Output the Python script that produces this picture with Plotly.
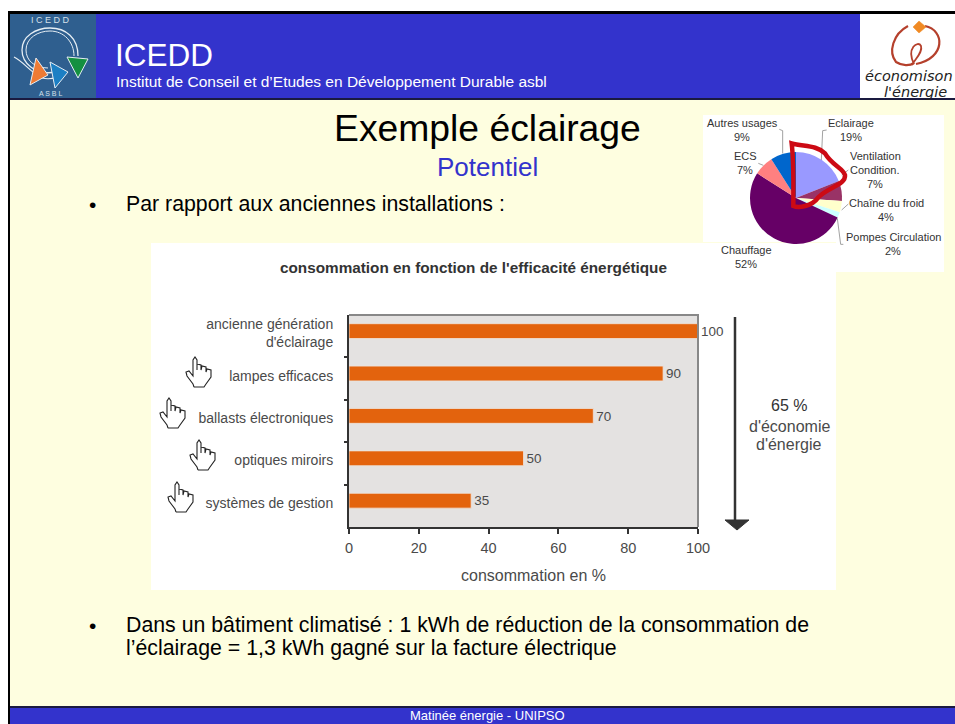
import plotly.graph_objects as go

W, H = 955, 724

# ---------- data ----------
categories = ["ancienne génération<br>d'éclairage", "lampes efficaces", "ballasts électroniques",
              "optiques miroirs", "systèmes de gestion"]
consumption = [100, 90, 70, 50, 35]
x_ticks = [0, 20, 40, 60, 80, 100]

pie_labels = ["Eclairage", "Ventilation Condition.", "Chaîne du froid", "Pompes Circulation",
              "Chauffage", "ECS", "Autres usages"]
pie_values = [19, 7, 4, 2, 52, 7, 9]
pie_colors = ["#9999FF", "#993366", "#FFFFCC", "#CCFFFF", "#660066", "#FF8080", "#0066CC"]

BLUE = "#3333CC"
YEL = "#FEFEE0"
ORANGE = "#E3630D"
TXT = "#4A4A4A"
FONT = "Liberation Sans"


def px(x):
    return x / W


def py(y):
    return 1 - y / H


shapes = []
annots = []


def rect(x0, y0, x1, y1, fill, layer="below", line=None, lw=0):
    shapes.append(dict(type="rect", xref="paper", yref="paper", x0=px(x0), x1=px(x1), y0=py(y0), y1=py(y1),
                       fillcolor=fill, line=dict(width=lw, color=line or fill), layer=layer))


def path_of(cmds):
    out = []
    for c in cmds:
        if isinstance(c, str):
            out.append(c)
        else:
            out.append(f"{px(c[0]):.5f},{py(c[1]):.5f}")
    return " ".join(out)


def poly(points, color, lw=1, fill=None, close=False, layer="above"):
    cmds = ["M", points[0]]
    for p in points[1:]:
        cmds += ["L", p]
    if close:
        cmds.append("Z")
    shapes.append(dict(type="path", xref="paper", yref="paper", path=path_of(cmds),
                       line=dict(color=color, width=lw), fillcolor=fill or "rgba(0,0,0,0)", layer=layer))


def curve(cmds, color, lw=1.5, layer="above"):
    shapes.append(dict(type="path", xref="paper", yref="paper", path=path_of(cmds),
                       line=dict(color=color, width=lw), fillcolor="rgba(0,0,0,0)", layer=layer))


def text(x, y, s, size, color="#000000", anchor="center", font=FONT, **kw):
    annots.append(dict(xref="paper", yref="paper", x=px(x), y=py(y), text=s, showarrow=False,
                       xanchor=anchor, yanchor="middle", align=anchor,
                       font=dict(size=size, color=color, family=font), borderpad=0, **kw))


# ---------- slide frame ----------
rect(0, 0, 8, H, "#FFFFFF")
rect(0, 0, W, 11, "#FFFFFF")
rect(8, 11, W, 14, "#000000")
rect(8, 11, 10, H, "#000000")
rect(10, 14, 860, 98, BLUE)
rect(10, 98, W, 100, "#1A1A40")
rect(10, 707, W, H, BLUE)
rect(10, 706, W, 708, "#1A1A40")
# white panels behind the two charts
rect(703, 115, 944, 242, "#FFFFFF")
rect(836, 242, 944, 272, "#FFFFFF")
rect(151, 243, 836, 590, "#FFFFFF")
# plot area background
rect(349, 315, 698, 527, "#E4E2E1")

# ---------- ICEDD logo ----------
rect(10, 14, 96, 98, "#2F5F8F")
text(50, 20, "I C E D D", 9, "#D5E0EA")
text(50, 94, "A S B L", 7, "#D5E0EA")
curve(["M", (56, 72), "C", (34, 76), (22, 62), (22, 50), "C", (22, 36), (36, 28), (50, 28),
       "C", (66, 28), (78, 38), (78, 56)], "#E6EEF4", 1.3)
curve(["M", (48, 68), "C", (34, 68), (26, 60), (26, 50), "C", (26, 38), (38, 31), (50, 31),
       "C", (64, 31), (74, 42), (74, 56)], "#E6EEF4", 1.0)
curve(["M", (14, 57), "C", (24, 62), (30, 72), (42, 78), "C", (50, 80), (58, 78), (66, 72)], "#E6EEF4", 1.2)
poly([(36, 58), (30, 85), (48, 75)], "#E6EEF4", 1, "#EE7B35", True)
poly([(50, 62), (55, 88), (68, 72)], "#E6EEF4", 1, "#1B7FC4", True)
poly([(67, 57), (88, 59), (78, 78)], "#E6EEF4", 1, "#149040", True)

# ---------- energy logo ----------
rect(860, 14, W, 98, "#FFFFFF")
RED2 = "#B5402C"
curve(["M", (908, 26), "C", (893, 34), (888, 52), (896, 62), "C", (902, 66), (910, 66), (914, 63)], RED2, 2.2)
curve(["M", (925, 26), "C", (945, 30), (946, 58), (916, 64)], RED2, 2.2)
curve(["M", (914, 64), "C", (906, 48), (918, 40), (921, 46), "C", (923, 52), (916, 58), (912, 65)], RED2, 1.8)
poly([(919, 21), (926, 27), (919, 33), (913, 27)], "#F08A24", 0.5, "#F08A24", True)
text(909, 76, "<i>économison</i>", 14.5, "#222222", font="DejaVu Sans")
text(915, 92, "<i>l'énergie</i>", 14.5, "#222222", font="DejaVu Sans")

# ---------- slide texts ----------
text(114, 55, "ICEDD", 31.5, "#FFFFFF", anchor="left")
text(115, 82, "Institut de Conseil et d’Etudes en Développement Durable asbl", 15.5, "#FFFFFF", anchor="left")
text(487, 128, "Exemple éclairage", 37.3)
text(487, 167, "Potentiel", 26, BLUE)
text(92, 204, "•", 21)
text(125, 204, "Par rapport aux anciennes installations :", 21.3, anchor="left")
text(92, 625, "•", 21)
text(125, 625, "Dans un bâtiment climatisé : 1 kWh de réduction de la consommation de", 21.3, anchor="left")
text(125, 648, "l’éclairage = 1,3 kWh gagné sur la facture électrique", 21.3, anchor="left")
text(487, 715.5, "Matinée énergie - UNIPSO", 13, "#FFFFFF")

# ---------- bar chart decorations ----------
text(473, 267, "<b>consommation en fonction de l'efficacité énergétique</b>", 15.3, "#333333")
text(789, 406, "65 %", 16, "#333333")
text(789, 426, "d'économie", 16, TXT)
text(788, 445, "d'énergie", 16, TXT)
text(533, 575, "consommation en %", 16, TXT)
poly([(735, 317), (735, 521)], "#333333", 2.5)
poly([(725, 520), (749, 520), (737, 530)], "#333333", 1, "#333333", True)
poly([(349, 315), (698, 315), (698, 527)], "#888888", 2)
for ty in [357, 400, 442, 485]:
    poly([(344, ty), (349, ty)], "#333333", 2)


def hand(x, y):
    pts = [(8, 30), (18, 30), (20, 27), (25, 20), (25, 13), (21, 12), (20, 15), (20, 10), (16, 9), (15, 13),
           (15, 8), (11, 7), (11, 13), (11, 3), (9, 0), (7, 3), (7, 19), (3, 14), (0, 15), (1, 19), (7, 27), (8, 30)]
    poly([(x + a, y + b) for a, b in pts], "#222222", 1.1, "#FFFFFF")


for hx, hy in [(186, 357), (160, 398), (190, 440), (168, 482)]:
    hand(hx, hy)

# ---------- pie decorations ----------
text(742, 123, "Autres usages", 11, "#333333")
text(742, 137, "9%", 11, "#333333")
text(851, 123, "Eclairage", 11, "#333333")
text(851, 137, "19%", 11, "#333333")
text(875, 156, "Ventilation", 11, "#333333")
text(875, 170, "Condition.", 11, "#333333")
text(875, 184, "7%", 11, "#333333")
text(745, 156, "ECS", 11, "#333333")
text(745, 170, "7%", 11, "#333333")
text(886, 203, "Chaîne du froid", 11, "#333333")
text(886, 217, "4%", 11, "#333333")
text(893, 237, "Pompes Circulation", 11, "#333333")
text(893, 251, "2%", 11, "#333333")
text(746, 250, "Chauffage", 11, "#333333")
text(746, 264, "52%", 11, "#333333")


def z(a, b):
    return (700 + a / 3, 110 + b / 3)


for seg in [[z(238, 58), z(248, 62), z(248, 130)],
            [z(380, 60), z(368, 62), z(364, 150)],
            [z(445, 180), z(425, 195)],
            [z(175, 160), z(190, 166)],
            [z(445, 282), z(425, 300)],
            [z(430, 403), z(422, 403), z(412, 325)]]:
    poly(seg, "#8A8A8A", 0.8)

curve(["M", z(275, 100), "C", z(310, 110), z(350, 105), z(375, 130),
       "C", z(395, 165), z(430, 175), z(435, 195),
       "C", z(438, 225), z(385, 230), z(355, 262),
       "C", z(335, 290), z(295, 295), z(280, 288),
       "C", z(280, 220), z(282, 160), z(275, 100), "Z"], "#CC0A14", 4.5)

# ---------- traces ----------
bar = go.Bar(
    y=list(range(len(categories))), x=consumption, orientation="h",
    width=0.35, offset=-0.295,
    marker=dict(color=ORANGE, line=dict(color="#EFE3DA", width=0.8)),
    text=consumption, textposition="outside", cliponaxis=False,
    textfont=dict(size=14.5, color=TXT, family=FONT),
    hoverinfo="x+y",
)
pie = go.Pie(
    labels=pie_labels, values=pie_values, sort=False, direction="clockwise", rotation=0,
    marker=dict(colors=pie_colors, line=dict(width=0)),
    textinfo="none", showlegend=False,
    domain=dict(x=[px(750), px(842)], y=[py(244), py(152)]),
)

fig = go.Figure([bar, pie])
fig.update_layout(
    width=W, height=H, margin=dict(l=0, r=0, t=0, b=0), autosize=False,
    paper_bgcolor=YEL, plot_bgcolor="rgba(0,0,0,0)", showlegend=False,
    bargap=0.65, annotations=annots,
    font=dict(family=FONT, color=TXT),
    xaxis=dict(
        domain=[px(349), px(698)], range=[0, 100], tickvals=x_ticks, ticks="outside", ticklen=5, tickwidth=2,
        tickcolor="#333333", showline=True, linecolor="#333333", linewidth=2, showgrid=False, zeroline=False,
        tickfont=dict(size=14.5, color=TXT, family=FONT), automargin=False, ticklabelstandoff=2,
    ),
    yaxis=dict(
        domain=[py(527), py(315)], range=[4.5, -0.5], tickmode="array",
        tickvals=list(range(len(categories))), ticktext=categories, automargin=False,
        ticks="", showline=True, linecolor="#333333", linewidth=2, showgrid=False, zeroline=False,
        tickfont=dict(size=14, color=TXT, family=FONT), ticklabelstandoff=11, ticklabelshift=3,
    ),
)
fig.update_layout(shapes=shapes)

fig.write_html("out.html", config={"displayModeBar": False},
               post_script="document.body.style.margin='0';document.body.style.background='#ffffff';")
